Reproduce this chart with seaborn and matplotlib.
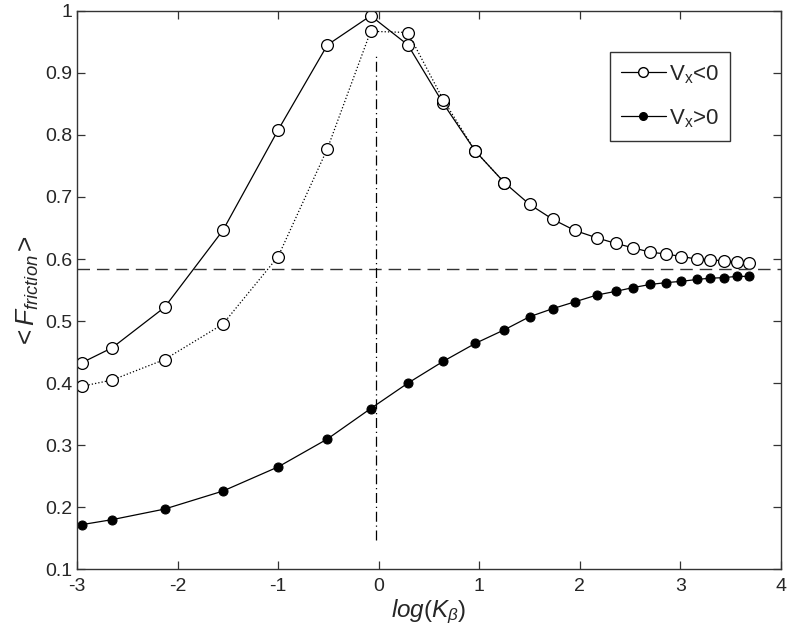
import seaborn as sns
import matplotlib.pyplot as plt
from matplotlib.lines import Line2D

# values
x_neg = [-2.95, -2.65, -2.13, -1.55, -1.00, -0.51, -0.08, 0.29, 0.64, 0.96, 1.25,
         1.50, 1.73, 1.95, 2.17, 2.36, 2.53, 2.70, 2.86, 3.01, 3.16, 3.29, 3.43, 3.56, 3.68]
f_neg = [0.433, 0.457, 0.522, 0.646, 0.808, 0.945, 0.992, 0.945, 0.851, 0.774, 0.723,
         0.688, 0.664, 0.646, 0.634, 0.625, 0.618, 0.611, 0.608, 0.604, 0.600, 0.599, 0.597, 0.595, 0.594]

x_dot = [-2.95, -2.65, -2.13, -1.55, -1.00, -0.51, -0.08, 0.29, 0.64, 0.96, 1.25]
f_dot = [0.395, 0.405, 0.438, 0.495, 0.604, 0.778, 0.967, 0.965, 0.857, 0.774, 0.723]

x_pos = [-2.95, -2.65, -2.13, -1.55, -1.00, -0.51, -0.08, 0.29, 0.64, 0.96, 1.25,
         1.50, 1.73, 1.95, 2.17, 2.36, 2.53, 2.70, 2.86, 3.01, 3.16, 3.29, 3.43, 3.56, 3.68]
f_pos = [0.172, 0.180, 0.197, 0.226, 0.265, 0.310, 0.359, 0.400, 0.435, 0.464, 0.486,
         0.507, 0.520, 0.531, 0.542, 0.548, 0.554, 0.559, 0.562, 0.564, 0.567, 0.569, 0.570, 0.572, 0.572]

f_limit = 0.584          # horizontal dashed reference
x_peak = -0.03           # vertical dash-dot marker
peak_span = (0.147, 0.93)

sns.set_style("ticks")
plt.rcParams['font.family'] = ['Liberation Sans', 'DejaVu Sans']
plt.rcParams['mathtext.fontset'] = 'custom'
plt.rcParams['mathtext.rm'] = 'Liberation Sans'
plt.rcParams['mathtext.it'] = 'Liberation Sans:italic'
plt.rcParams['axes.unicode_minus'] = False

fig = plt.figure(figsize=(7.89, 6.35), dpi=100)
ax = fig.add_axes([0.0976, 0.1035, 0.8923, 0.8795])

sns.lineplot(x=x_neg, y=f_neg, ax=ax, color='black', lw=0.9, marker='o', ms=8.5,
             mfc='white', mec='black', mew=0.9)
sns.lineplot(x=x_dot, y=f_dot, ax=ax, color='black', lw=0.9, ls=':', marker='o', ms=8.5,
             mfc='white', mec='black', mew=0.9)
sns.lineplot(x=x_pos, y=f_pos, ax=ax, color='black', lw=0.9, marker='o', ms=6.5,
             mfc='black', mec='black')

ax.axhline(f_limit, color='#333333', lw=1.0, ls=(0, (9, 5)))
ax.plot([x_peak, x_peak], peak_span, color='black', lw=0.9, ls=(0, (8, 3, 1, 3)))

ax.set_xlim(-3, 4)
ax.set_ylim(0.1, 1)
ax.set_xticks(range(-3, 5))
ax.set_yticks([0.1, 0.2, 0.3, 0.4, 0.5, 0.6, 0.7, 0.8, 0.9, 1.0])
ax.set_yticklabels(['0.1', '0.2', '0.3', '0.4', '0.5', '0.6', '0.7', '0.8', '0.9', '1'])
ax.tick_params(direction='in', top=True, right=True, labelsize=14, length=6,
               width=0.9, color='#333333')
ax.tick_params(axis='y', pad=3.5)
ax.tick_params(axis='x', pad=6)
for s in ax.spines.values():
    s.set_color('#333333')
    s.set_linewidth(1.0)

ax.set_xlabel(r'$log(K_\beta)$', fontsize=17.5, labelpad=2)
ax.set_ylabel(r'<$\,F_{friction}\,$>', fontsize=19, labelpad=3)

handles = [
    Line2D([], [], color='black', lw=0.9, marker='o', ms=7, mfc='white', mec='black'),
    Line2D([], [], color='black', lw=0.9, marker='o', ms=5.5, mfc='black', mec='black'),
]
leg = ax.legend(handles, [r'V$_\mathrm{x}$<0', r'V$_\mathrm{x}$>0'], loc='upper left',
                bbox_to_anchor=(0.757, 0.926), borderaxespad=0, fontsize=16,
                fancybox=False, framealpha=1, edgecolor='#333333',
                handlelength=2.0, handletextpad=0.15, borderpad=0.5, labelspacing=0.95)
leg.get_frame().set_linewidth(1.0)

fig.savefig('out.png', dpi=100)
